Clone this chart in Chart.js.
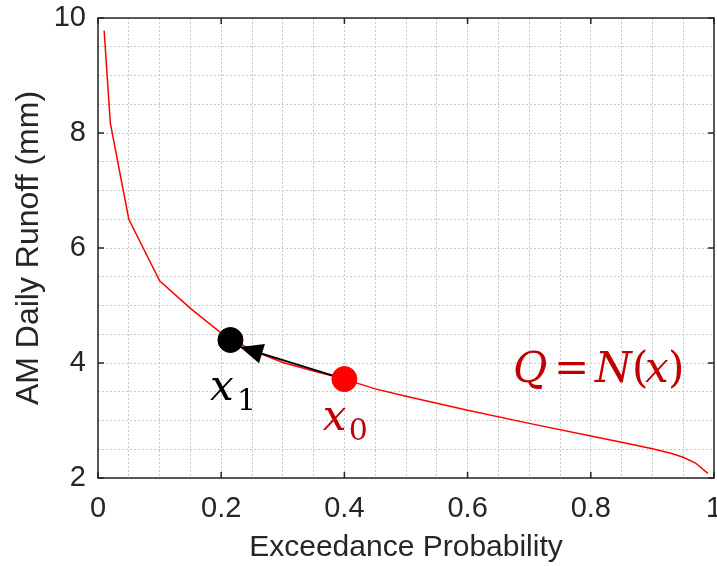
<!DOCTYPE html>
<html>
<head>
<meta charset="utf-8">
<script src="https://cdn.jsdelivr.net/npm/chart.js@4.4.1/dist/chart.umd.min.js"></script>
<style>
    html, body { margin: 0; padding: 0; background: #fff; }
</style>
</head>
<body>
<canvas id="runoffChart" width="717" height="566"></canvas>
<script>
// Кривая обеспеченности: вероятность превышения -> суточный сток
const probValues   = [0.01, 0.02, 0.05, 0.10, 0.15, 0.20, 0.25, 0.30, 0.35, 0.40, 0.45, 0.50, 0.60, 0.70, 0.80, 0.85, 0.90, 0.93, 0.95, 0.97, 0.99];
const runoffValues = [9.78, 8.17, 6.50, 5.43, 4.95, 4.52, 4.22, 4.01, 3.86, 3.72, 3.55, 3.42, 3.18, 2.95, 2.73, 2.62, 2.51, 2.43, 2.36, 2.26, 2.08];

// Точки x0 (старт) и x1 (после шага)
const startPoint = [0.40, 3.72];
const stepPoint  = [0.215, 4.40];
const arrowTip   = [0.2305, 4.28];

// Подписи делений
const xMajorTicks = [0, 0.2, 0.4, 0.6, 0.8, 1];
const yMajorTicks = [2, 4, 6, 8, 10];

const textColor = '#262626';
const mathRed = '#c00000';

function isMajor(v, list) {
    return list.some(t => Math.abs(t - v) < 1e-6);
}

// Рисуем подряд куски текста (формулы)
function drawPieces(ctx, x0, y0, pieces) {
    pieces.forEach(p => {
        ctx.font = p.font;
        ctx.fillStyle = p.color;
        ctx.fillText(p.text, x0 + p.dx, y0 + (p.dy || 0));
    });
}

// Убираем запас под крайние подписи, чтобы область графика была как в оригинале
function fixBox(size, prop) {
    return s => {
        s[prop] = size;
        s.paddingLeft = 0;
        s.paddingRight = 0;
        s.paddingTop = 0;
        s.paddingBottom = 0;
    };
}

const framePlugin = {
    id: 'frame',
    afterDatasetsDraw(chart) {
        const { ctx, chartArea: a, scales: { x, y } } = chart;
        ctx.save();

        // наконечник стрелки
        const tx = x.getPixelForValue(arrowTip[0]);
        const ty = y.getPixelForValue(arrowTip[1]);
        const sx = x.getPixelForValue(startPoint[0]);
        const sy = y.getPixelForValue(startPoint[1]);
        const ang = Math.atan2(ty - sy, tx - sx);
        const len = 23, half = 10;
        ctx.fillStyle = '#000';
        ctx.beginPath();
        ctx.moveTo(tx, ty);
        ctx.lineTo(tx - len * Math.cos(ang) + half * Math.sin(ang), ty - len * Math.sin(ang) - half * Math.cos(ang));
        ctx.lineTo(tx - len * Math.cos(ang) - half * Math.sin(ang), ty - len * Math.sin(ang) + half * Math.cos(ang));
        ctx.closePath();
        ctx.fill();

        // рамка
        ctx.strokeStyle = textColor;
        ctx.lineWidth = 1.5;
        ctx.strokeRect(a.left, a.top, a.right - a.left, a.bottom - a.top);

        // внутренние засечки
        ctx.beginPath();
        xMajorTicks.forEach(v => {
            const px = x.getPixelForValue(v);
            ctx.moveTo(px, a.bottom); ctx.lineTo(px, a.bottom - 6);
            ctx.moveTo(px, a.top); ctx.lineTo(px, a.top + 6);
        });
        yMajorTicks.forEach(v => {
            const py = y.getPixelForValue(v);
            ctx.moveTo(a.left, py); ctx.lineTo(a.left + 6, py);
            ctx.moveTo(a.right, py); ctx.lineTo(a.right - 6, py);
        });
        ctx.stroke();

        // подписи формул
        ctx.textBaseline = 'alphabetic';
        ctx.textAlign = 'left';
        const it = 'italic 42px "DejaVu Serif"';
        const up = '42px "DejaVu Serif"';
        const sub = '30px "DejaVu Serif"';

        drawPieces(ctx, x.getPixelForValue(0.182), y.getPixelForValue(3.36), [
            { text: 'x', font: it, color: '#000', dx: 0 },
            { text: '1', font: sub, color: '#000', dx: 27, dy: 10 }
        ]);
        drawPieces(ctx, x.getPixelForValue(0.365), y.getPixelForValue(2.835), [
            { text: 'x', font: it, color: mathRed, dx: 0 },
            { text: '0', font: sub, color: mathRed, dx: 26, dy: 10 }
        ]);
        drawPieces(ctx, x.getPixelForValue(0.680), y.getPixelForValue(3.67), [
            { text: 'Q', font: it, color: mathRed, dx: -4 },
            { text: '=', font: up, color: mathRed, dx: 37 },
            { text: 'N', font: it, color: mathRed, dx: 78 },
            { text: '(', font: up, color: mathRed, dx: 115 },
            { text: 'x', font: it, color: mathRed, dx: 128 },
            { text: ')', font: up, color: mathRed, dx: 151 }
        ]);

        ctx.restore();
    }
};

function initChart() {
    const ctx = document.getElementById('runoffChart').getContext('2d');
    const curve = probValues.map((p, i) => ({ x: p, y: runoffValues[i] }));

    new Chart(ctx, {
        type: 'scatter',
        data: {
            datasets: [
                {
                    label: 'x1',
                    data: [{ x: stepPoint[0], y: stepPoint[1] }],
                    backgroundColor: '#000',
                    borderColor: '#000',
                    pointRadius: 12.5,
                    order: 0
                },
                {
                    label: 'x0',
                    data: [{ x: startPoint[0], y: startPoint[1] }],
                    backgroundColor: '#ff0000',
                    borderColor: '#ff0000',
                    pointRadius: 12.5,
                    order: 0
                },
                {
                    label: 'step',
                    data: [{ x: startPoint[0], y: startPoint[1] }, { x: arrowTip[0], y: arrowTip[1] }],
                    showLine: true,
                    borderColor: '#000',
                    borderWidth: 2,
                    pointRadius: 0,
                    order: 1
                },
                {
                    label: 'Q = N(x)',
                    data: curve,
                    showLine: true,
                    borderColor: '#ff0000',
                    borderWidth: 1.5,
                    pointRadius: 0,
                    tension: 0,
                    order: 2
                }
            ]
        },
        options: {
            responsive: false,
            animation: false,
            layout: {
                autoPadding: false, // иначе большие маркеры съедают отступ справа
                padding: { top: 18, right: 3, left: 0, bottom: 0 }
            },
            plugins: {
                legend: { display: false },
                tooltip: { enabled: false }
            },
            scales: {
                x: {
                    type: 'linear',
                    min: 0,
                    max: 1,
                    afterFit: fixBox(88, 'height'),
                    grid: {
                        color: '#c8c8c8',
                        lineWidth: 1,
                        drawTicks: false
                    },
                    border: { display: false, dash: [2, 2] },
                    ticks: {
                        stepSize: 0.05,
                        autoSkip: false,
                        maxRotation: 0,
                        padding: 14,
                        color: textColor,
                        font: { family: '"Liberation Sans", Arial', size: 29 },
                        callback: v => isMajor(v, xMajorTicks) ? String(Math.round(v * 10) / 10) : ''
                    },
                    title: {
                        display: true,
                        text: 'Exceedance Probability',
                        color: textColor,
                        font: { family: '"Liberation Sans", Arial', size: 30 },
                        padding: { top: 0, bottom: 0 }
                    }
                },
                y: {
                    type: 'linear',
                    min: 2,
                    max: 10,
                    afterFit: fixBox(98, 'width'),
                    grid: {
                        color: '#c8c8c8',
                        lineWidth: 1,
                        drawTicks: false
                    },
                    border: { display: false, dash: [2, 2] },
                    ticks: {
                        stepSize: 0.5,
                        autoSkip: false,
                        padding: 12,
                        color: textColor,
                        font: { family: '"Liberation Sans", Arial', size: 29 },
                        callback: v => isMajor(v, yMajorTicks) ? String(v) : ''
                    },
                    title: {
                        display: true,
                        text: 'AM Daily Runoff (mm)',
                        color: textColor,
                        font: { family: '"Liberation Sans", Arial', size: 32 },
                        padding: { top: 10, bottom: 0 }
                    }
                }
            }
        },
        plugins: [framePlugin]
    });
}

window.addEventListener('DOMContentLoaded', () => {
    initChart();
});
</script>
</body>
</html>
